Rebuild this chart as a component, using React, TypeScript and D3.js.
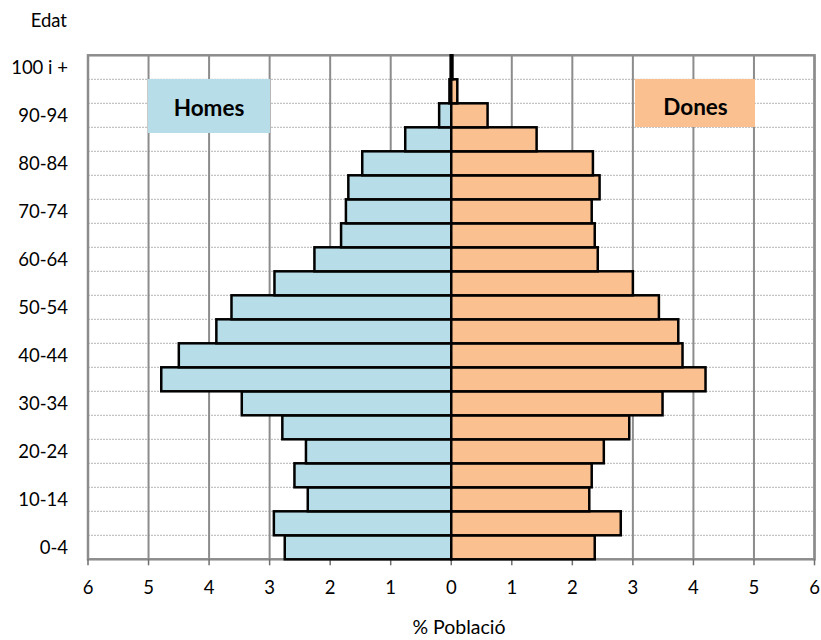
import React from "react";
import * as d3 from "d3";

const ageGroups = [
  "0-4", "5-9", "10-14", "15-19", "20-24", "25-29", "30-34", "35-39", "40-44", "45-49",
  "50-54", "55-59", "60-64", "65-69", "70-74", "75-79", "80-84", "85-89", "90-94", "95-99", "100 i +",
];
const homes = [2.75, 2.93, 2.37, 2.59, 2.4, 2.79, 3.46, 4.79, 4.5, 3.88, 3.63, 2.92, 2.26, 1.82, 1.74, 1.7, 1.47, 0.76, 0.2, 0.03, 0.01];
const dones = [2.37, 2.8, 2.28, 2.32, 2.52, 2.94, 3.49, 4.2, 3.82, 3.75, 3.43, 3.0, 2.42, 2.37, 2.32, 2.45, 2.34, 1.41, 0.6, 0.1, 0.02];
const xTicks = [-6, -5, -4, -3, -2, -1, 0, 1, 2, 3, 4, 5, 6];

const W = 821;
const H = 640;
const FONT = "Lato, 'Open Sans', sans-serif";
const FS = 18.5;

export default function App() {
  const x = d3.scaleLinear().domain([-6, 6]).range([88, 814.5]);
  const y = d3
    .scaleBand<string>()
    .domain([...ageGroups].reverse())
    .range([55.3, 559.3])
    .padding(0);
  const top = 55.3;
  const bottom = 559.3;
  const bw = y.bandwidth();

  return (
    <svg
      width={W}
      height={H}
      style={{ position: "absolute", left: 0, top: 0, display: "block", background: "#fff" }}
    >
      {/* horizontal dotted gridlines at row boundaries */}
      {ageGroups.map((g, i) =>
        i === 0 ? null : (
          <line
            key={"h" + g}
            x1={x(-6)}
            x2={x(6)}
            y1={(y(g) as number) + bw}
            y2={(y(g) as number) + bw}
            stroke="#b5b5b5"
            strokeWidth={1}
            strokeDasharray="2,1"
          />
        )
      )}
      {/* vertical gridlines */}
      {xTicks.map((t) => (
        <line key={"v" + t} x1={x(t)} x2={x(t)} y1={top} y2={bottom} stroke="#8c8c8c" strokeWidth={2} />
      ))}
      {/* plot border */}
      <rect x={x(-6)} y={top} width={x(6) - x(-6)} height={bottom - top} fill="none" stroke="#8c8c8c" strokeWidth={2.5} />
      {/* tick marks */}
      {xTicks.map((t) => (
        <line key={"t" + t} x1={x(t)} x2={x(t)} y1={bottom} y2={bottom + 6} stroke="#6e6e6e" strokeWidth={1.5} />
      ))}
      {/* bars */}
      {ageGroups.map((g, i) => (
        <rect
          key={"m" + g}
          x={x(-homes[i])}
          y={y(g)}
          width={x(0) - x(-homes[i])}
          height={bw}
          fill="#b7dde8"
          stroke="#000"
          strokeWidth={2.5}
        />
      ))}
      {ageGroups.map((g, i) => (
        <rect
          key={"f" + g}
          x={x(0)}
          y={y(g)}
          width={x(dones[i]) - x(0)}
          height={bw}
          fill="#fac090"
          stroke="#000"
          strokeWidth={2.5}
        />
      ))}
      {/* legend boxes */}
      <rect x={148} y={79} width={122} height={54} fill="#b7dde8" />
      <text x={209} y={116} textAnchor="middle" fontFamily={FONT} fontWeight="bold" fontSize={22.5} fill="#000">
        Homes
      </text>
      <rect x={635} y={79} width={120} height={48} fill="#fac090" />
      <text x={695.5} y={115} textAnchor="middle" fontFamily={FONT} fontWeight="bold" fontSize={22.5} fill="#000">
        Dones
      </text>
      {/* y labels */}
      {ageGroups.map((g, i) =>
        i % 2 === 0 ? (
          <text
            key={"yl" + g}
            x={68}
            y={(y(g) as number) + bw / 2 + 7}
            textAnchor="end"
            fontFamily={FONT}
            fontSize={FS}
            fill="#000"
          >
            {g}
          </text>
        ) : null
      )}
      {/* x labels */}
      {xTicks.map((t) => (
        <text
          key={"xl" + t}
          x={x(t)}
          y={594}
          textAnchor="middle"
          fontFamily={FONT}
          fontSize={FS}
          fill="#000"
        >
          {Math.abs(t)}
        </text>
      ))}
      <text x={459} y={634} textAnchor="middle" fontFamily={FONT} fontSize={19.5} fill="#000">
        % Població
      </text>
      <text x={67} y={26.7} textAnchor="end" fontFamily={FONT} fontSize={FS} fill="#000">
        Edat
      </text>
    </svg>
  );
}
